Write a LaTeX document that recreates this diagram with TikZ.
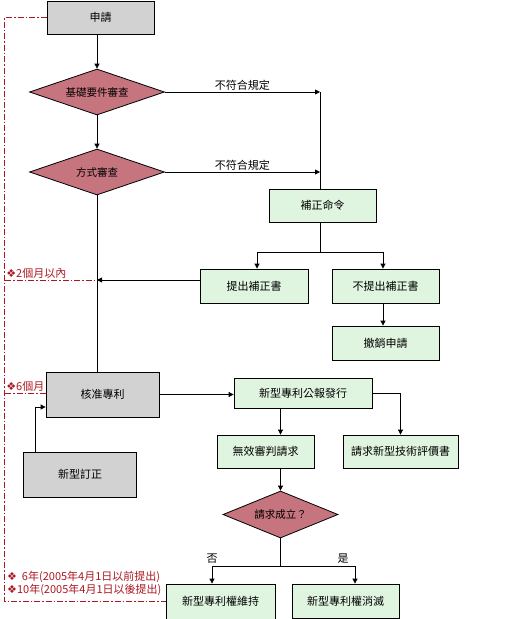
\documentclass[tikz,border=0pt]{standalone}
\usepackage{fontspec}
\setmainfont{Noto Sans CJK TC}
\newfontfamily\symfont{DejaVu Sans}
\usetikzlibrary{shapes.geometric,arrows.meta}
\definecolor{boxgray}{RGB}{210,210,210}
\definecolor{boxgreen}{RGB}{224,245,224}
\definecolor{chkred}{RGB}{198,116,126}
\definecolor{limitred}{RGB}{170,24,34}
\newcommand{\mk}{{\symfont\char"2756}}

\begin{document}
\begin{tikzpicture}[
  x=1pt, y=-1pt,
  base/.style={draw, line width=0.8pt, inner sep=0pt, align=center,
    font=\fontsize{11}{13}\selectfont},
  grayblk/.style={base, fill=boxgray},
  greenblk/.style={base, fill=boxgreen},
  check/.style={base, diamond, fill=chkred, aspect=2.9,
    font=\fontsize{10.5}{12}\selectfont},
  arrow/.style={-{Triangle[length=5pt,width=5pt]}, line width=0.8pt},
  link/.style={line width=0.8pt},
  limit/.style={draw=limitred, line width=0.7pt,
    dash pattern=on 6pt off 2pt on 1.5pt off 2pt},
  note/.style={text=limitred, inner sep=1pt,
    font=\fontsize{11}{13}\selectfont},
  label/.style={font=\fontsize{11}{13}\selectfont, inner sep=1pt}
]
\useasboundingbox (0,0) rectangle (512,619);

% left column
\node[grayblk, minimum width=107pt, minimum height=33pt] (req) at (100.5,17.5) {申請};
\node[check, minimum width=135pt, minimum height=46pt] (chk1) at (97,92) {基礎要件審查};
\node[check, minimum width=135pt, minimum height=46pt] (chk2) at (97,172) {方式審查};
\node[grayblk, minimum width=113pt, minimum height=45pt] (app) at (102.5,394.5) {核准專利};
\node[grayblk, minimum width=113pt, minimum height=45pt] (amend) at (80,474.5) {新型訂正};

% correction branch
\node[greenblk, minimum width=107pt, minimum height=33pt] (fix) at (322.5,205.5) {補正命令};
\node[greenblk, minimum width=108pt, minimum height=34pt] (sub) at (254,286) {提出補正書};
\node[greenblk, minimum width=107pt, minimum height=34pt] (nosub) at (385.5,286) {不提出補正書};
\node[greenblk, minimum width=107pt, minimum height=34pt] (wd) at (385.5,343) {撤銷申請};

% after grant
\node[greenblk, minimum width=138pt, minimum height=30pt] (pub) at (303,393) {新型專利公報發行};
\node[greenblk, minimum width=97pt, minimum height=33pt] (inv) at (265.5,451.5) {無效審判請求};
\node[greenblk, minimum width=115pt, minimum height=33pt] (eval) at (400.5,451.5) {請求新型技術評價書};
\node[check, minimum width=115pt, minimum height=47pt] (dec) at (280.5,514.5) {請求成立？};
\node[greenblk, minimum width=109pt, minimum height=35pt] (keep) at (220.5,601.5) {新型專利權維持};
\node[greenblk, minimum width=107pt, minimum height=34pt] (gone) at (345.5,601) {新型專利權消滅};

\coordinate (j1) at (320,92);
\coordinate (split1) at (320,252);
\coordinate (back) at (97,280);
\coordinate (split2) at (280.5,566);

\draw[arrow] (req.south -| chk1) -- (chk1.north);
\draw[arrow] (chk1.south) -- (chk2.north);
\draw[arrow] (chk1.east) -- node[label, above] {不符合規定} (j1);
\draw[arrow] (chk2.east) -- node[label, above] {不符合規定} (chk2.east -| j1);
\draw[link] (j1) -- (j1 |- fix.north);
\draw[link] (split1 |- fix.south) -- (split1);
\draw[arrow] (split1) -| ([xshift=3pt]sub.north);
\draw[arrow] (split1) -| ([xshift=-2.5pt]nosub.north);
\draw[arrow] ([xshift=-2.5pt]nosub.south) -- ([xshift=-2.5pt]wd.north);
\draw[arrow] ([yshift=6pt]sub.west) -- (back);
\draw[link] (chk2.south) -- (chk2.south |- app.north);
\draw[arrow] ([xshift=-45pt]amend.north) |- ([yshift=-12.5pt]app.west);
\draw[arrow] (app.east) -- (app.east -| pub.west);
\draw[arrow] (pub.east) -| (eval.north);
\draw[arrow] (pub.south -| dec) -- (inv.north -| dec);
\draw[arrow] (inv.south -| dec) -- (dec.north);
\draw[link] (dec.south) -- (split2);
\draw[arrow] (split2) -| node[label, pos=0.5, above=1pt] {否} ([xshift=-8.5pt]keep.north);
\draw[arrow] (split2) -| node[label, pos=0.42, above=1pt] {是} ([xshift=9.5pt]gone.north);

% time limits
\draw[limit] (req.west) -- ++(-42,0) |- (keep.west);
\draw[limit] (5,280) -- node[note, pos=0, anchor=south west] {\mk2個月以內} (back);
\draw[limit] (5,393) -- node[note, pos=0, anchor=south west] {\mk6個月} (5,393 -| app.west);
\node[note, anchor=west] (six) at (6,577) {\mk\ \ 6年(2005年4月1日以前提出)};
\node[note, anchor=west] (ten) at (6,590) {\mk10年(2005年4月1日以後提出)};
\end{tikzpicture}
\end{document}
